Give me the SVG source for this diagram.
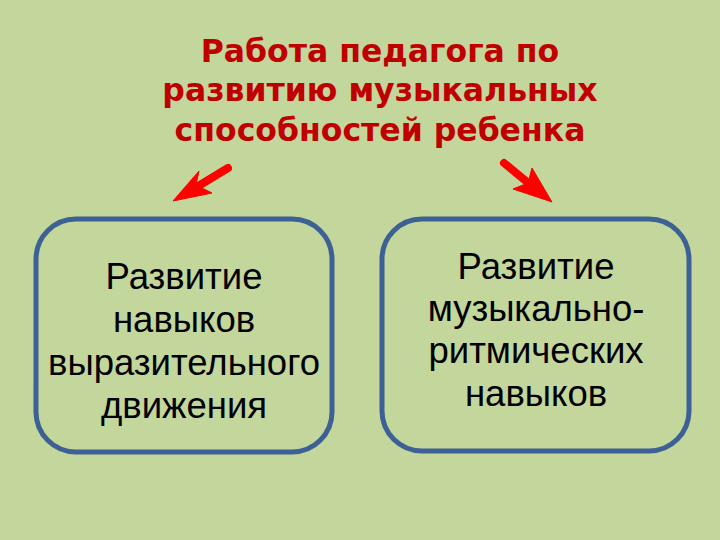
<svg xmlns="http://www.w3.org/2000/svg" width="720" height="540" viewBox="0 0 720 540">
<style>
.title{font-family:"DejaVu Sans","Noto Sans",sans-serif;font-weight:bold;font-size:31.5px;fill:#C00000;text-anchor:middle}
.box{fill:none;stroke:#3D6194;stroke-width:5}
.lbl{font-family:"Liberation Sans",Arial,sans-serif;font-size:36.5px;fill:#000;text-anchor:middle}
.arr{fill:#FF0000;stroke:#FF0000;stroke-linejoin:round}
</style>
<rect width="720" height="540" fill="#C3D69B"/>
<g id="title">
<text class="title" x="380" y="62">Работа педагога по</text>
<text class="title" x="380" y="101">развитию музыкальных</text>
<text class="title" x="380" y="141">способностей ребенка</text>
</g>
<g id="connectors">
<line x1="228" y1="168" x2="195" y2="188" stroke="#FF0000" stroke-width="8" stroke-linecap="round"/>
<polygon class="arr" points="173,201 199,171 196,185 212,193"/>
<line x1="504" y1="163" x2="532" y2="186" stroke="#FF0000" stroke-width="8" stroke-linecap="round"/>
<polygon class="arr" points="552,202 532,168 528,183 513,189"/>
</g>
<g id="left">
<rect class="box" x="36" y="219" width="296" height="233" rx="40"/>
<text class="lbl" x="184" y="289">Развитие</text>
<text class="lbl" x="184" y="332">навыков</text>
<text class="lbl" x="184" y="375">выразительного</text>
<text class="lbl" x="184" y="418">движения</text>
</g>
<g id="right">
<rect class="box" x="382" y="219" width="307" height="232" rx="40"/>
<text class="lbl" x="536" y="279">Развитие</text>
<text class="lbl" x="536" y="321">музыкально-</text>
<text class="lbl" x="536" y="363">ритмических</text>
<text class="lbl" x="536" y="406">навыков</text>
</g>
</svg>
